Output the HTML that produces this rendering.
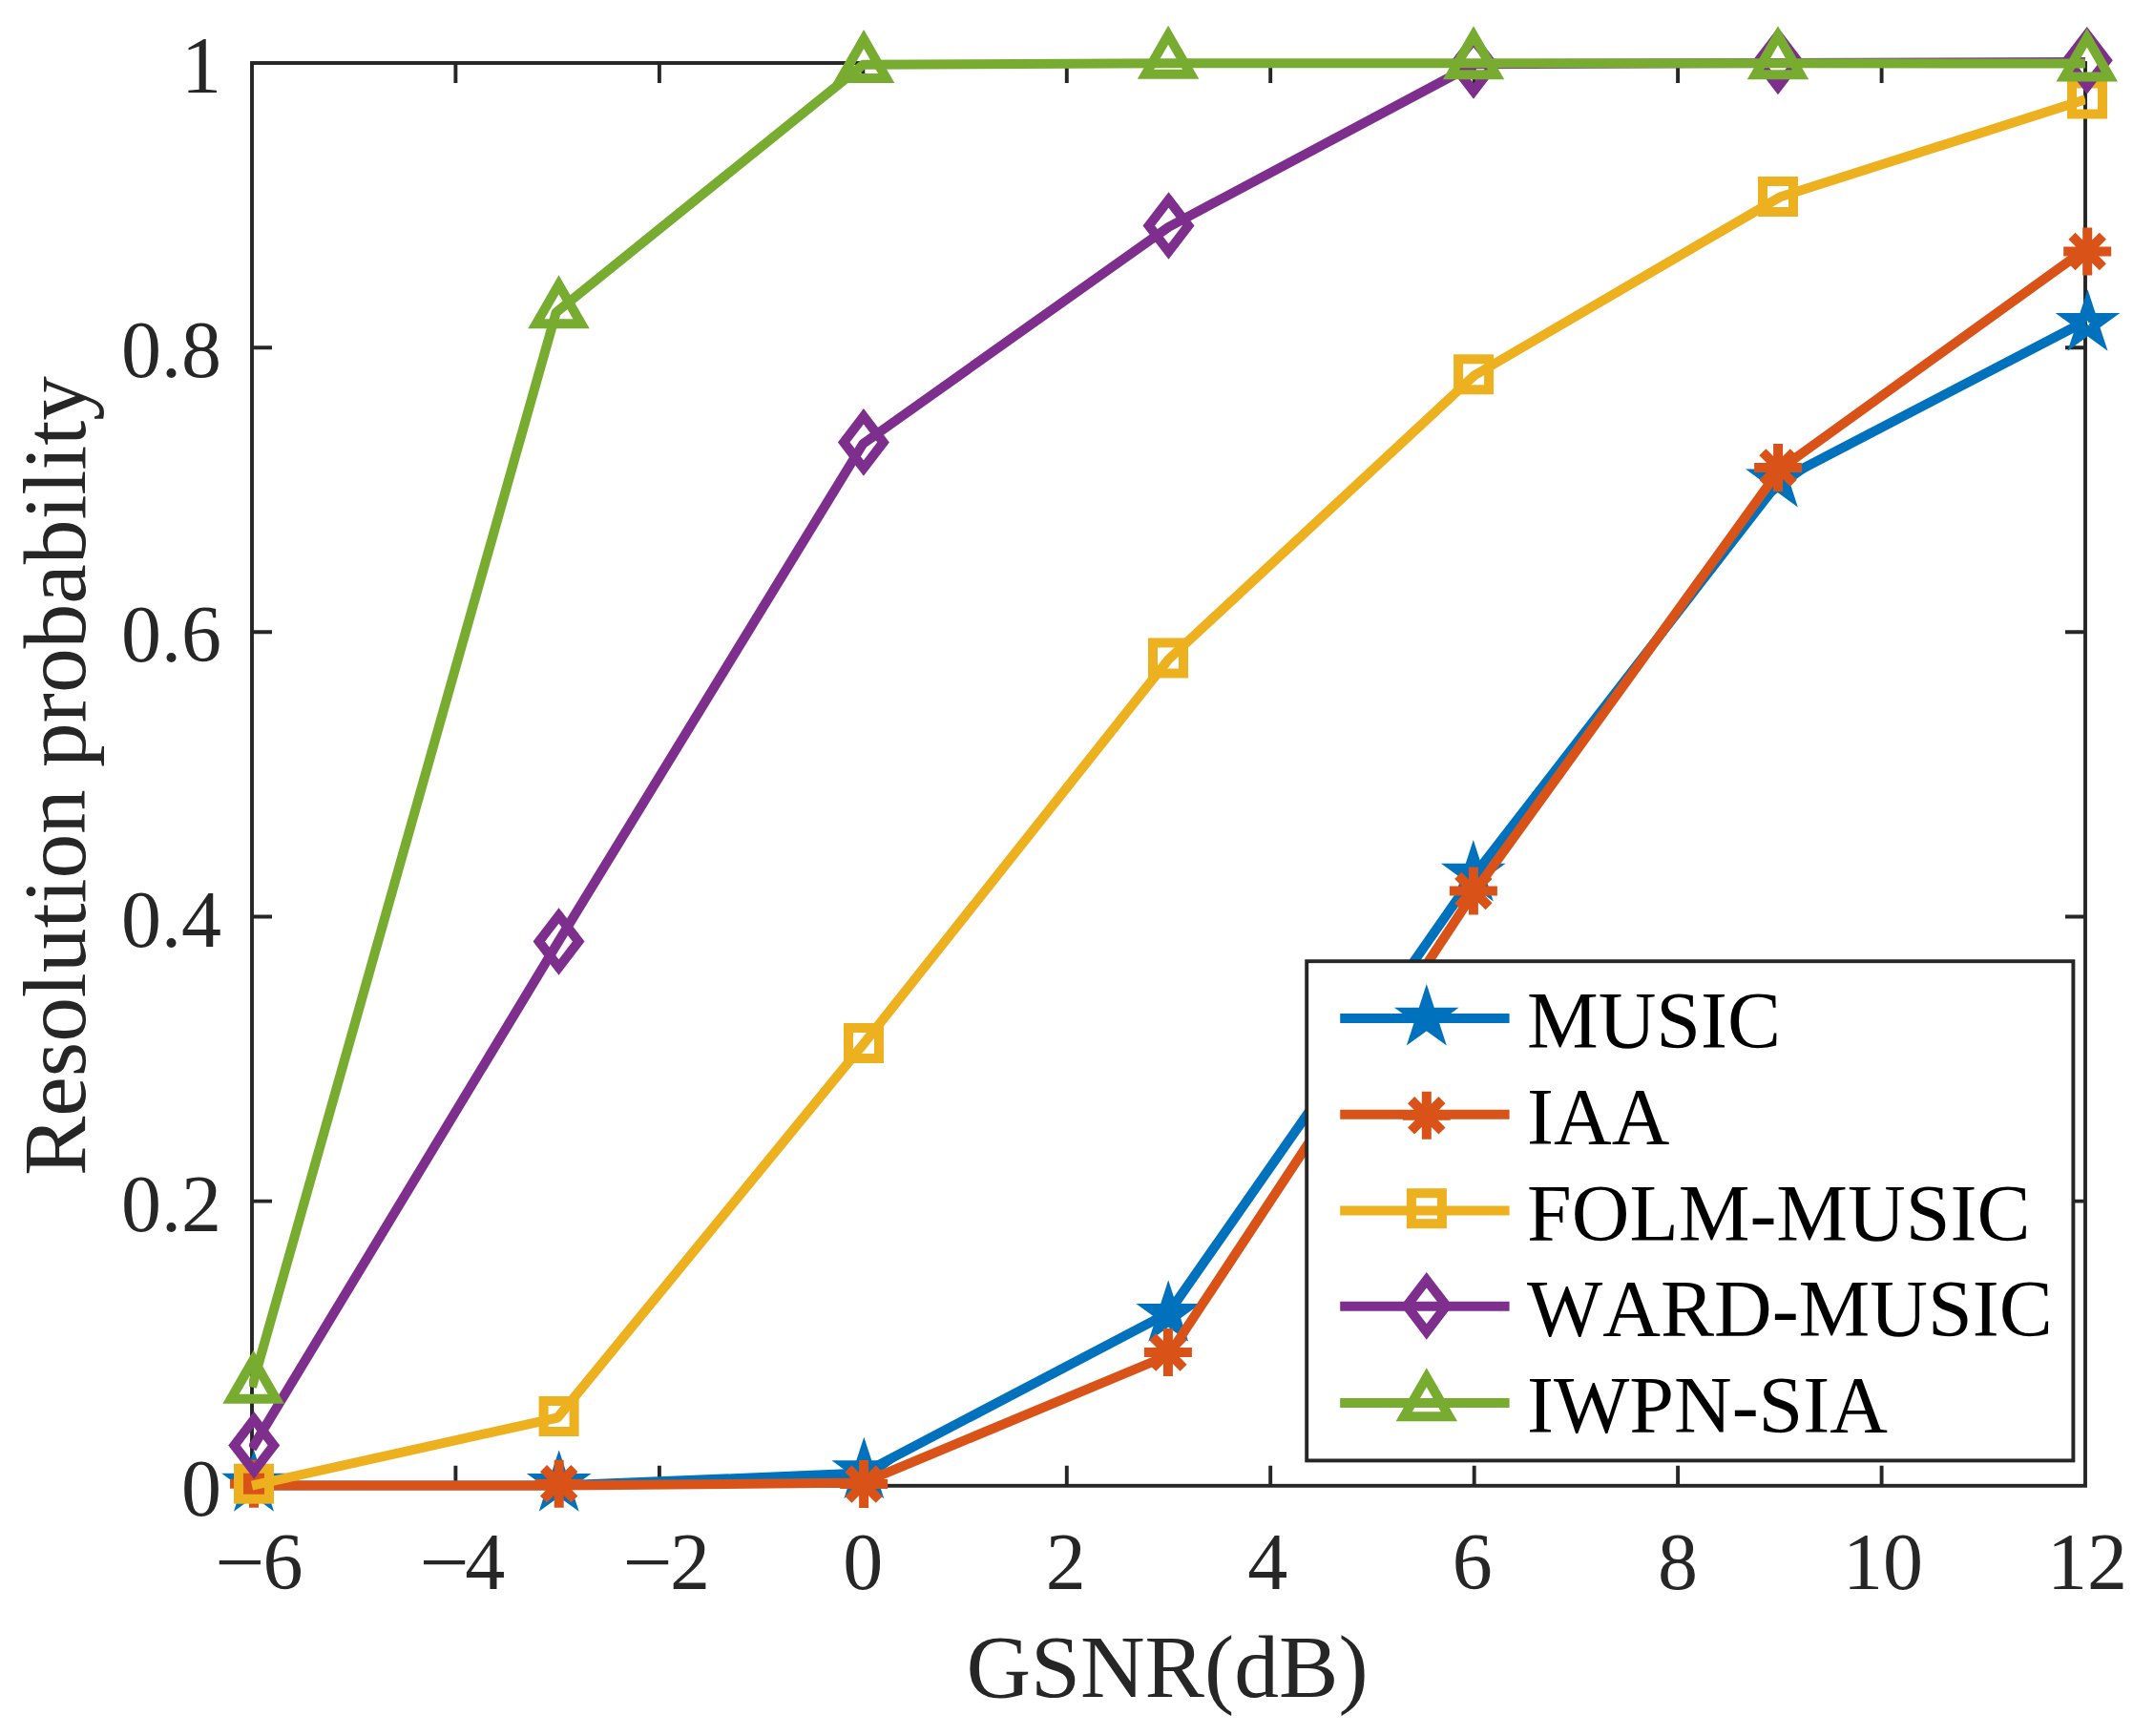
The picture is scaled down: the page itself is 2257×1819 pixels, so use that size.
<!DOCTYPE html>
<html lang="en"><head><meta charset="utf-8"><title>Resolution probability vs GSNR</title>
<style>html,body{margin:0;padding:0;background:#fff}svg{display:block}text{font-family:"Liberation Serif","Times New Roman",serif;font-kerning:none}</style></head><body>
<svg width="2257" height="1819" viewBox="0 0 2257 1819">
<rect width="2257" height="1819" fill="#fff"/>
<g stroke="#262626" stroke-width="3.9" fill="none" stroke-linecap="butt">
<rect x="264.0" y="66.0" width="1921.0" height="1490.8"/>
<path d="M477.4 1556.8V1535.8M477.4 66.0V87.0M690.9 1556.8V1535.8M690.9 66.0V87.0M904.3 1556.8V1535.8M904.3 66.0V87.0M1117.8 1556.8V1535.8M1117.8 66.0V87.0M1331.2 1556.8V1535.8M1331.2 66.0V87.0M1544.7 1556.8V1535.8M1544.7 66.0V87.0M1758.1 1556.8V1535.8M1758.1 66.0V87.0M1971.6 1556.8V1535.8M1971.6 66.0V87.0M264.0 1258.6H285.0M2185.0 1258.6H2164.0M264.0 960.5H285.0M2185.0 960.5H2164.0M264.0 662.3H285.0M2185.0 662.3H2164.0M264.0 364.2H285.0M2185.0 364.2H2164.0"/>
</g>
<defs><clipPath id="axclip"><rect x="261" y="0" width="1924.2" height="1819"/></clipPath></defs>
<polyline clip-path="url(#axclip)" points="264.0,1556.6 264.0,1556.6 584.2,1556.6 904.3,1543.6 1224.5,1375.6 1544.7,917.0 1864.8,503.5 2185.0,336.8 2185.0,336.8" stroke="#0072BD" stroke-width="10" fill="none" stroke-linejoin="round"/>
<polygon points="266.0,1535.3 270.4,1548.8 284.5,1548.8 273.1,1557.1 277.5,1570.6 266.0,1562.2 254.5,1570.6 258.9,1557.1 247.5,1548.8 261.6,1548.8" fill="none" stroke="#0072BD" stroke-width="10" stroke-miterlimit="10"/>
<polygon points="585.7,1535.4 590.1,1548.9 604.2,1548.9 592.8,1557.2 597.2,1570.7 585.7,1562.4 574.2,1570.7 578.6,1557.2 567.2,1548.9 581.3,1548.9" fill="none" stroke="#0072BD" stroke-width="10" stroke-miterlimit="10"/>
<polygon points="905.3,1521.8 909.7,1535.3 923.8,1535.3 912.4,1543.6 916.8,1557.1 905.3,1548.8 893.8,1557.1 898.2,1543.6 886.8,1535.3 900.9,1535.3" fill="none" stroke="#0072BD" stroke-width="10" stroke-miterlimit="10"/>
<polygon points="1224.2,1357.5 1228.6,1371.0 1242.7,1371.0 1231.3,1379.3 1235.7,1392.8 1224.2,1384.5 1212.7,1392.8 1217.1,1379.3 1205.7,1371.0 1219.8,1371.0" fill="none" stroke="#0072BD" stroke-width="10" stroke-miterlimit="10"/>
<polygon points="1543.8,896.2 1548.2,909.7 1562.3,909.7 1550.9,918.0 1555.3,931.5 1543.8,923.2 1532.3,931.5 1536.7,918.0 1525.3,909.7 1539.4,909.7" fill="none" stroke="#0072BD" stroke-width="10" stroke-miterlimit="10"/>
<polygon points="1862.8,483.0 1867.2,496.5 1881.3,496.5 1869.9,504.8 1874.3,518.3 1862.8,509.9 1851.3,518.3 1855.7,504.8 1844.3,496.5 1858.4,496.5" fill="none" stroke="#0072BD" stroke-width="10" stroke-miterlimit="10"/>
<polygon points="2187.5,319.4 2191.9,332.9 2206.0,332.9 2194.6,341.2 2199.0,354.7 2187.5,346.3 2176.0,354.7 2180.4,341.2 2169.0,332.9 2183.1,332.9" fill="none" stroke="#0072BD" stroke-width="10" stroke-miterlimit="10"/>
<polyline clip-path="url(#axclip)" points="264.0,1556.6 264.0,1556.6 584.2,1556.6 904.3,1553.6 1224.5,1420.0 1544.7,934.8 1864.8,491.8 2185.0,261.2 2185.0,261.2" stroke="#D95319" stroke-width="10" fill="none" stroke-linejoin="round"/>
<path d="M241.0 1554.8H291.0M266.0 1529.8V1579.8M249.8 1538.6L282.2 1571.0M249.8 1571.0L282.2 1538.6" stroke="#D95319" stroke-width="10" fill="none"/>
<path d="M560.7 1554.8H610.7M585.7 1529.8V1579.8M569.5 1538.6L601.9 1571.0M569.5 1571.0L601.9 1538.6" stroke="#D95319" stroke-width="10" fill="none"/>
<path d="M880.1 1555.1H930.1M905.1 1530.1V1580.1M888.9 1538.9L921.3 1571.3M888.9 1571.3L921.3 1538.9" stroke="#D95319" stroke-width="10" fill="none"/>
<path d="M1198.9 1417.0H1248.9M1223.9 1392.0V1442.0M1207.7 1400.8L1240.1 1433.2M1207.7 1433.2L1240.1 1400.8" stroke="#D95319" stroke-width="10" fill="none"/>
<path d="M1518.9 933.6H1568.9M1543.9 908.6V958.6M1527.7 917.4L1560.1 949.8M1527.7 949.8L1560.1 917.4" stroke="#D95319" stroke-width="10" fill="none"/>
<path d="M1838.1 490.0H1888.1M1863.1 465.0V515.0M1846.9 473.8L1879.3 506.2M1846.9 506.2L1879.3 473.8" stroke="#D95319" stroke-width="10" fill="none"/>
<path d="M2162.2 263.5H2212.2M2187.2 238.5V288.5M2171.0 247.3L2203.4 279.7M2171.0 279.7L2203.4 247.3" stroke="#D95319" stroke-width="10" fill="none"/>
<polyline clip-path="url(#axclip)" points="264.0,1556.6 264.0,1556.6 584.2,1485.5 904.3,1094.5 1224.5,690.8 1544.7,393.5 1864.8,206.6 2185.0,104.2 2185.0,104.2" stroke="#EDB120" stroke-width="10" fill="none" stroke-linejoin="round"/>
<rect x="250.0" y="1538.7" width="32.0" height="32.0" stroke="#EDB120" stroke-width="10" fill="none"/>
<rect x="569.6" y="1468.0" width="32.0" height="32.0" stroke="#EDB120" stroke-width="10" fill="none"/>
<rect x="889.0" y="1077.0" width="32.0" height="32.0" stroke="#EDB120" stroke-width="10" fill="none"/>
<rect x="1208.0" y="673.5" width="32.0" height="32.0" stroke="#EDB120" stroke-width="10" fill="none"/>
<rect x="1528.1" y="376.3" width="32.0" height="32.0" stroke="#EDB120" stroke-width="10" fill="none"/>
<rect x="1847.0" y="190.0" width="32.0" height="32.0" stroke="#EDB120" stroke-width="10" fill="none"/>
<rect x="2171.0" y="87.5" width="32.0" height="32.0" stroke="#EDB120" stroke-width="10" fill="none"/>
<polyline clip-path="url(#axclip)" points="264.0,1517.8 264.0,1517.8 584.2,988.2 904.3,465.0 1224.5,237.8 1544.7,67.3 1864.8,66.0 2185.0,65.0 2185.0,65.0" stroke="#7E2F8E" stroke-width="10" fill="none" stroke-linejoin="round"/>
<polygon points="266.2,1487.3 286.9,1514.4 266.2,1541.5 245.5,1514.4" stroke="#7E2F8E" stroke-width="10" fill="none" stroke-miterlimit="10"/>
<polygon points="585.5,959.4 606.2,986.5 585.5,1013.6 564.8,986.5" stroke="#7E2F8E" stroke-width="10" fill="none" stroke-miterlimit="10"/>
<polygon points="904.9,436.3 925.6,463.4 904.9,490.5 884.2,463.4" stroke="#7E2F8E" stroke-width="10" fill="none" stroke-miterlimit="10"/>
<polygon points="1224.5,209.4 1245.2,236.5 1224.5,263.6 1203.8,236.5" stroke="#7E2F8E" stroke-width="10" fill="none" stroke-miterlimit="10"/>
<polygon points="1544.0,41.4 1564.7,68.5 1544.0,95.6 1523.3,68.5" stroke="#7E2F8E" stroke-width="10" fill="none" stroke-miterlimit="10"/>
<polygon points="1863.0,36.9 1883.7,64.0 1863.0,91.1 1842.3,64.0" stroke="#7E2F8E" stroke-width="10" fill="none" stroke-miterlimit="10"/>
<polygon points="2186.8,36.2 2207.5,63.3 2186.8,90.4 2166.1,63.3" stroke="#7E2F8E" stroke-width="10" fill="none" stroke-miterlimit="10"/>
<polyline clip-path="url(#axclip)" points="264.0,1453.5 264.0,1453.5 582.7,327.3 904.3,67.8 1224.5,66.2 1544.7,66.2 1864.8,66.3 2185.0,66.5 2185.0,66.5" stroke="#77AC30" stroke-width="10" fill="none" stroke-linejoin="round"/>
<polygon points="265.6,1424.7 289.2,1465.7 242.0,1465.7" stroke="#77AC30" stroke-width="10" fill="none" stroke-miterlimit="10"/>
<polygon points="585.5,298.3 609.1,339.3 561.9,339.3" stroke="#77AC30" stroke-width="10" fill="none" stroke-miterlimit="10"/>
<polygon points="905.1,41.0 928.7,82.0 881.5,82.0" stroke="#77AC30" stroke-width="10" fill="none" stroke-miterlimit="10"/>
<polygon points="1224.1,36.8 1247.7,77.8 1200.5,77.8" stroke="#77AC30" stroke-width="10" fill="none" stroke-miterlimit="10"/>
<polygon points="1544.0,37.2 1567.6,78.2 1520.4,78.2" stroke="#77AC30" stroke-width="10" fill="none" stroke-miterlimit="10"/>
<polygon points="1863.0,37.2 1886.6,78.2 1839.4,78.2" stroke="#77AC30" stroke-width="10" fill="none" stroke-miterlimit="10"/>
<polygon points="2186.8,39.4 2210.4,80.4 2163.2,80.4" stroke="#77AC30" stroke-width="10" fill="none" stroke-miterlimit="10"/>
<rect x="1369.2" y="1007.2" width="803.2" height="523.2" fill="#fff" stroke="#262626" stroke-width="3.9"/>
<line x1="1404.2" y1="1067.1" x2="1581.6" y2="1067.1" stroke="#0072BD" stroke-width="10"/>
<polygon points="1494.8,1047.2 1499.2,1060.7 1513.3,1060.7 1501.9,1069.0 1506.3,1082.5 1494.8,1074.2 1483.3,1082.5 1487.7,1069.0 1476.3,1060.7 1490.4,1060.7" fill="none" stroke="#0072BD" stroke-width="10" stroke-miterlimit="10"/>
<text x="1600" y="1098.0" font-size="84" fill="#000">MUSIC</text>
<line x1="1404.2" y1="1167.8" x2="1581.6" y2="1167.8" stroke="#D95319" stroke-width="10"/>
<path d="M1469.8 1168.8H1519.8M1494.8 1143.8V1193.8M1478.6 1152.6L1511.0 1185.0M1478.6 1185.0L1511.0 1152.6" stroke="#D95319" stroke-width="10" fill="none"/>
<text x="1600" y="1199.0" font-size="84" fill="#000">IAA</text>
<line x1="1404.2" y1="1268.6" x2="1581.6" y2="1268.6" stroke="#EDB120" stroke-width="10"/>
<rect x="1478.9" y="1250.2" width="32.0" height="32.0" stroke="#EDB120" stroke-width="10" fill="none"/>
<text x="1600" y="1299.5" font-size="84" fill="#000">FOLM-MUSIC</text>
<line x1="1404.2" y1="1368.8" x2="1581.6" y2="1368.8" stroke="#7E2F8E" stroke-width="10"/>
<polygon points="1494.8,1341.2 1515.5,1368.3 1494.8,1395.4 1474.1,1368.3" stroke="#7E2F8E" stroke-width="10" fill="none" stroke-miterlimit="10"/>
<text x="1600" y="1400.0" font-size="84" fill="#000">WARD-MUSIC</text>
<line x1="1404.2" y1="1470.0" x2="1581.6" y2="1470.0" stroke="#77AC30" stroke-width="10"/>
<polygon points="1494.8,1443.2 1518.4,1484.2 1471.2,1484.2" stroke="#77AC30" stroke-width="10" fill="none" stroke-miterlimit="10"/>
<text x="1600" y="1501.0" font-size="84" fill="#000">IWPN-SIA</text>
<g font-size="84" fill="#262626">
<text transform="translate(225.2,1665) scale(1.105,1)">−</text><text x="275.5" y="1665">6</text>
<text transform="translate(439.4,1665) scale(1.105,1)">−</text><text x="487.2" y="1665">4</text>
<text transform="translate(652.5,1665) scale(1.105,1)">−</text><text x="702.0" y="1665">2</text>
<text x="904.3" y="1665" text-anchor="middle">0</text>
<text x="1116.8" y="1665" text-anchor="middle">2</text>
<text x="1328.2" y="1665" text-anchor="middle">4</text>
<text x="1542.7" y="1665" text-anchor="middle">6</text>
<text x="1758.1" y="1665" text-anchor="middle">8</text>
<text x="1973.1" y="1665" text-anchor="middle">10</text>
<text x="2187.0" y="1665" text-anchor="middle">12</text>
<text x="232" y="1587.8" text-anchor="end">0</text>
<text x="232" y="1289.6" text-anchor="end">0.2</text>
<text x="232" y="991.5" text-anchor="end">0.4</text>
<text x="232" y="693.3" text-anchor="end">0.6</text>
<text x="232" y="395.2" text-anchor="end">0.8</text>
<text x="232" y="97.0" text-anchor="end">1</text>
</g>
<text x="1223" y="1777.5" font-size="93.6" fill="#262626" text-anchor="middle">GSNR(dB)</text>
<text transform="translate(89.3,813) rotate(-90)" font-size="93.4" fill="#262626" text-anchor="middle">Resolution probability</text>
</svg></body></html>
